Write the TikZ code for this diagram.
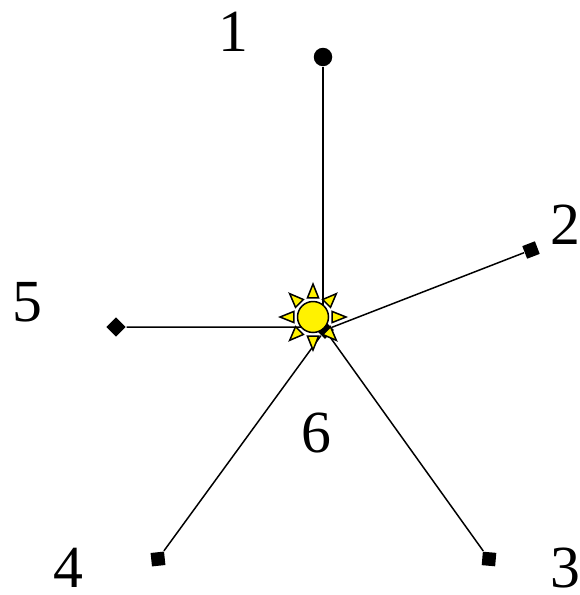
\documentclass[tikz,border=0pt]{standalone}
\usepackage{fontspec}
\setmainfont{Liberation Serif}
\usetikzlibrary{positioning,shapes.geometric}

\begin{document}
\begin{tikzpicture}[
  x=0.02cm,
  y=-0.02cm,
  line width=0.85pt,
  number/.style={font=\fontsize{34}{40}\selectfont,inner sep=0pt},
  round end/.style={circle,fill=black,inner sep=0pt,minimum size=0.37cm},
  box end/.style={rectangle,fill=black,inner sep=0pt,minimum size=0.27cm},
  ray/.style={draw=black,fill=yellow,line width=0.85pt,line join=miter}
]
  \useasboundingbox (0,0) rectangle (580,595);

  % stations round the hub
  \node[round end] (one) at (323,57) {};
  \node[box end,rotate=21] (two) at (531,250) {};
  \node[box end,rotate=-5] (three) at (489,559) {};
  \node[box end,rotate=6] (four) at (158,559) {};
  \node[box end,rotate=45] (five) at (116,327) {};
  \node[box end,rotate=45,minimum size=0.25cm] (hub) at (325,330) {};

  \draw (one) -- (one |- hub);
  \draw (two) -- (hub);
  \draw (three) -- (hub);
  \draw (four) -- (hub);
  \draw (five) -- (five -| hub);

  % sun on top of the hub
  \begin{scope}[shift={(313,317)}]
    \foreach \a in {0,45,...,315}
      \draw[ray] (\a:33) -- (\a+16:20) -- (\a-16:20) -- cycle;
  \end{scope}
  \node[circle,draw=black,fill=yellow,line width=0.85pt,inner sep=0pt,minimum size=0.62cm] (sun) at (313,317) {};

  \node[number] (n1) at (233,32) {1};
  \node[number] (n2) at (565,225) {2};
  \node[number] (n3) at (565,568) {3};
  \node[number] (n4) at (68,568) {4};
  \node[number] (n5) at (27,302) {5};
  \node[number] (n6) at (316,433) {6};
\end{tikzpicture}
\end{document}
